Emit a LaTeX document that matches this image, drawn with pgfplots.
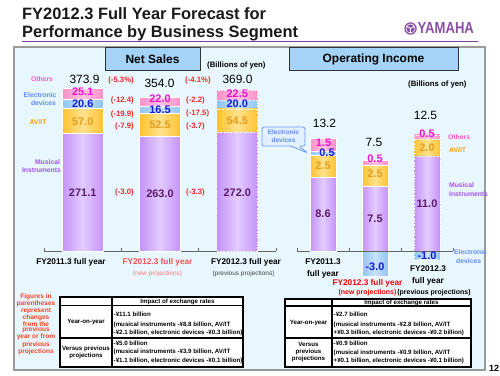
\documentclass[border=0pt]{standalone}
\usepackage{fontspec}
\setmainfont{Liberation Sans}
\usepackage{pgfplots}
\pgfplotsset{compat=1.18}
\newcommand{\fs}[1]{\fontsize{#1}{#1}\selectfont}
\definecolor{titleC}{HTML}{1A1A1A}
\definecolor{purpL}{HTML}{7E3F9E}
\definecolor{yamC}{HTML}{8A4FA6}
\definecolor{panelC}{HTML}{E8F6FE}
\definecolor{panelB}{HTML}{9A9A9A}
\definecolor{hdrC}{HTML}{A3D3F6}
\definecolor{miE}{HTML}{C592F7}
\definecolor{miC}{HTML}{E2CCFF}
\definecolor{avE}{HTML}{FFC22E}
\definecolor{avC}{HTML}{FFE28E}
\definecolor{elE}{HTML}{8EC5F8}
\definecolor{elC}{HTML}{C6E3FF}
\definecolor{otE}{HTML}{FF8FC8}
\definecolor{otC}{HTML}{FFC4E2}
\definecolor{miT}{HTML}{5C1A6B}
\definecolor{avT}{HTML}{E39C1C}
\definecolor{elT}{HTML}{1A1ADC}
\definecolor{otT}{HTML}{F010D0}
\definecolor{miL}{HTML}{A652E8}
\definecolor{avL}{HTML}{FF9E00}
\definecolor{elL}{HTML}{5C8CF5}
\definecolor{otL}{HTML}{FF55C8}
\definecolor{chgC}{HTML}{F02828}
\definecolor{catR}{HTML}{FF5050}
\definecolor{catP}{HTML}{FF7A7A}
\definecolor{noteC}{HTML}{FF4020}
\definecolor{callF}{HTML}{E2F0FF}
\definecolor{callB}{HTML}{6C9CF2}
\definecolor{axC}{HTML}{666666}
\pgfplotsset{
  mi/.style={draw=white, line width=0.8bp, left color=miE, right color=miE, middle color=miC},
  av/.style={draw=white, line width=0.8bp, left color=avE, right color=avE, middle color=avC},
  el/.style={draw=white, line width=0.8bp, left color=elE, right color=elE, middle color=elC},
  ot/.style={draw=white, line width=0.8bp, left color=otE, right color=otE, middle color=otC},
  dsh/.style={dash pattern=on 2bp off 1.3bp},
  lgeo/.style={at={(44bp,124bp)}, anchor=south west, scale only axis,
    width=232bp, height=165.3bp, xmin=-0.5, xmax=2.5, ymin=0, ymax=380,
    ybar stacked, bar width=41bp, clip=false},
  rgeo/.style={at={(297bp,93.9bp)}, anchor=south west, scale only axis,
    width=156bp, height=159.1bp, xmin=-0.5, xmax=2.5, ymin=-3.5, ymax=15,
    bar width=26bp, clip=false},
  axvis/.style={axis y line=none,
    xtick={-0.5,0.5,1.5,2.5}, xticklabels={}, ytick=\empty,
    xtick align=inside, major tick length=3bp,
    axis line style={draw=axC, line width=1bp},
    x tick style={draw=axC, line width=0.8bp}},
}
\tikzset{
  vl/.style={inner sep=0pt, font=\fs{11}\bfseries},
  tot/.style={inner sep=0pt, font=\fs{12}},
  chg/.style={inner sep=0pt, font=\fs{7.8}\bfseries, text=chgC},
  leg/.style={inner sep=0pt, font=\fs{6.8}\bfseries},
  cat/.style={inner sep=0pt, font=\fs{8.3}\bfseries},
  tb/.style={inner sep=0pt, font=\fs{6.2}\bfseries},
}
\begin{document}
\begin{tikzpicture}[x=1bp,y=1bp]
\useasboundingbox (0,0) rectangle (500,375);
\fill[white] (0,0) rectangle (500,375);
\begin{scope}[shift={(0bp,375bp)}, y=-1bp]
  % title
  \node[anchor=west, inner sep=0pt, font=\fs{16.5}\bfseries, text=titleC] at (22,14) {FY2012.3 Full Year Forecast for};
  \node[anchor=west, inner sep=0pt, font=\fs{16.5}\bfseries, text=titleC] at (22,33) {Performance by Business Segment};
  \draw[purpL, line width=1.5bp] (22,41.5) -- (478,41.5);
  % logo
  \fill[yamC] (410.5,28.5) circle (6.2);
  \foreach \a in {90,210,330} {\draw[white, line width=0.9bp] (410.5,28.5) -- ++(\a:4.5);}
  \draw[white, line width=0.6bp] (410.5,28.5) circle (4.6);
  \node[anchor=west, inner sep=0pt, font=\fs{16}\bfseries, text=yamC] at (417.5,28.5) {\scalebox{0.82}[1]{YAMAHA}};
  % panel
  \filldraw[fill=panelC, draw=panelB, line width=1.5bp] (14,47) rectangle (485,370);
  \filldraw[fill=hdrC, draw=black!80, line width=0.8bp] (105,47) rectangle (200,70);
  \node[inner sep=0pt, font=\fs{12}\bfseries] at (152.5,59) {Net Sales};
  \filldraw[fill=hdrC, draw=black!80, line width=0.8bp] (289,47) rectangle (458,70);
  \node[inner sep=0pt, font=\fs{12}\bfseries] at (373.5,59) {Operating Income};
  \node[anchor=west, inner sep=0pt, font=\fs{7.8}\bfseries] at (207,65) {(Billions of yen)};
  \node[anchor=west, inner sep=0pt, font=\fs{7.8}\bfseries] at (408,84) {(Billions of yen)};
\end{scope}

% ---------- Net sales: FY2011.3 actual ----------
\begin{axis}[lgeo, axvis, axis x line*=bottom]
\addplot[mi] coordinates {(0,271.1)};
\addplot[av] coordinates {(0,57.0)};
\addplot[el] coordinates {(0,20.6)};
\addplot[ot] coordinates {(0,25.1)};
\end{axis}
% ---------- Net sales: new projections ----------
\begin{axis}[lgeo, hide axis]
\addplot[mi] coordinates {(1,263.0)};
\addplot[av] coordinates {(1,52.5)};
\addplot[el] coordinates {(1,16.5)};
\addplot[ot] coordinates {(1,22.0)};
\end{axis}
% ---------- Net sales: previous projections (dashed) ----------
\begin{axis}[lgeo, hide axis]
\addplot[mi, dsh] coordinates {(2,272.0)};
\addplot[av, dsh] coordinates {(2,54.5)};
\addplot[el, dsh] coordinates {(2,20.0)};
\addplot[ot, dsh] coordinates {(2,22.5)};
\end{axis}

% ---------- Operating income: negative electronic devices ----------
\begin{axis}[rgeo, ybar, bar shift=0pt, hide axis]
\addplot[el] coordinates {(1,-3.0)};
\addplot[el, dsh] coordinates {(2,-1.0)};
\end{axis}
% ---------- Operating income: previous projections (dashed) ----------
\begin{axis}[rgeo, ybar stacked, hide axis]
\addplot[mi, dsh] coordinates {(2,11.0)};
\addplot[av, dsh] coordinates {(2,2.0)};
\addplot[ot, dsh] coordinates {(2,0.5)};
\end{axis}
% ---------- Operating income: new projections ----------
\begin{axis}[rgeo, ybar stacked, hide axis]
\addplot[mi] coordinates {(1,7.5)};
\addplot[av] coordinates {(1,2.5)};
\addplot[ot] coordinates {(1,0.5)};
\end{axis}
% ---------- Operating income: FY2011.3 actual ----------
\begin{axis}[rgeo, ybar stacked, axvis, axis x line*=middle]
\addplot[mi] coordinates {(0,8.6)};
\addplot[av] coordinates {(0,2.5)};
\addplot[el] coordinates {(0,0.5)};
\addplot[ot] coordinates {(0,1.5)};
\end{axis}

\begin{scope}[shift={(0bp,375bp)}, y=-1bp]
  % left segment values
  \node[vl, text=miT] at (82.7,193) {271.1};
  \node[vl, text=avT] at (82.7,121.5) {57.0};
  \node[vl, text=elT] at (82.7,103.5) {20.6};
  \node[vl, text=otT] at (82.7,92) {25.1};
  \node[vl, text=miT] at (160,194) {263.0};
  \node[vl, text=avT] at (160,124.5) {52.5};
  \node[vl, text=elT] at (160,109.5) {16.5};
  \node[vl, text=otT] at (160,98.5) {22.0};
  \node[vl, text=miT] at (237.3,193) {272.0};
  \node[vl, text=avT] at (237.3,121) {54.5};
  \node[vl, text=elT] at (237.3,103.5) {20.0};
  \node[vl, text=otT] at (237.3,93.5) {22.5};
  % right segment values
  \node[vl, text=otT] at (323.5,143) {1.5};
  \node[vl, text=elT] at (327,153) {0.5};
  \node[vl, text=avT] at (323,166) {2.5};
  \node[vl, text=miT] at (323,214) {8.6};
  \node[vl, text=otT] at (375,158.5) {0.5};
  \node[vl, text=avT] at (375,174) {2.5};
  \node[vl, text=miT] at (375,219) {7.5};
  \node[vl, text=elT] at (375,267) {-3.0};
  \node[vl, text=otT] at (427,134) {0.5};
  \node[vl, text=avT] at (427,148) {2.0};
  \node[vl, text=miT] at (427,204) {11.0};
  \node[vl, text=elT] at (427,256) {-1.0};
  \node[tot] at (324.5,123) {13.2};
  \node[tot] at (374,142) {7.5};
  \node[tot] at (425.5,115) {12.5};
  % left totals and changes
  \node[tot] at (84.5,79) {373.9};
  \node[tot] at (159.5,83.5) {354.0};
  \node[tot] at (237.5,79) {369.0};
  \node[chg, anchor=east] at (134,80.5) {(-5.3\%)};
  \node[chg, anchor=east] at (134,100) {(-12.4)};
  \node[chg, anchor=east] at (134,114) {(-19.9)};
  \node[chg, anchor=east] at (134,126) {(-7.9)};
  \node[chg, anchor=east] at (134,192) {(-3.0)};
  \node[chg, anchor=west] at (185,80.5) {(-4.1\%)};
  \node[chg, anchor=west] at (186,100) {(-2.2)};
  \node[chg, anchor=west] at (186,113.5) {(-17.5)};
  \node[chg, anchor=west] at (186,126) {(-3.7)};
  \node[chg, anchor=west] at (186,192) {(-3.3)};
  % left legend
  \node[leg, text=otL] at (42,79) {Others};
  \node[leg, text=elL] at (40,95) {Electronic};
  \node[leg, text=elL] at (43.5,103) {devices};
  \node[leg, text=avL] at (38,122) {AV/IT};
  \node[leg, text=miL] at (47.5,162) {Musical};
  \node[leg, text=miL] at (41.5,170) {Instruments};
  % left categories
  \node[cat] at (71,262) {FY2011.3 full year};
  \node[cat, text=catR] at (157.5,262) {FY2012.3 full year};
  \node[inner sep=0pt, font=\fs{6.5}, text=catP] at (157.5,273.5) {(new projections)};
  \node[cat] at (246,262) {FY2012.3 full year};
  \node[inner sep=0pt, font=\fs{6.5}, text=black!75] at (243.5,273.5) {(previous projections)};
  % right legend
  \node[leg, text=otL, anchor=west] at (448,137) {Others};
  \node[leg, text=avL, anchor=west] at (449,150) {AV/IT};
  \node[leg, text=miL, anchor=west] at (449,185) {Musical};
  \node[leg, text=miL, anchor=west] at (449,194) {Instruments};
  \node[leg, text=elL, anchor=west] at (454,252) {Electronic};
  \node[leg, text=elL, anchor=west] at (456,261) {devices};
  % callout
  \filldraw[fill=callF, draw=callB, line width=0.8bp, rounded corners=1.5bp]
     (262,127) -- (305,127) -- (305,146) -- (299,146) -- (307.5,153) -- (291,146) -- (262,146) -- cycle;
  \node[leg, text=elL, font=\fs{6.5}\bfseries] at (283.5,132.5) {Electronic};
  \node[leg, text=elL, font=\fs{6.5}\bfseries] at (283.5,140.5) {devices};
  % right categories
  \node[cat] at (323,262) {FY2011.3};
  \node[cat] at (323,274) {full year};
  \node[cat] at (428,269) {FY2012.3};
  \node[cat] at (428,281) {full year};
  \node[cat, text=red] at (367.5,283) {FY2012.3 full year};
  \node[inner sep=0pt, font=\fs{7}\bfseries, text=red] at (367.5,293) {(new projections)};
  \node[inner sep=0pt, font=\fs{7}\bfseries] at (434,293) {(previous projections)};
  % note
  \node[inner sep=0pt, align=center, font=\fontsize{6.6}{5.45}\selectfont\bfseries, text=noteC] at (36,324)
    {Figures in\\parentheses\\represent\\changes\\from the\\previous\\year or from\\previous\\projections};
  % left table
  \filldraw[fill=white, draw=black, line width=1.1bp] (60,297) rectangle (243,367);
  \draw[black, line width=1.1bp] (112,297) -- (112,367) (60,305.5) -- (243,305.5) (60,338) -- (243,338);
  \node[tb] at (177.5,301.5) {Impact of exchange rates};
  \node[tb] at (86,322.5) {Year-on-year};
  \node[tb] at (86,348.5) {Versus previous};
  \node[tb] at (86,356) {projections};
  \node[tb, anchor=west] at (113.5,314) {-¥11.1 billion};
  \node[tb, anchor=west] at (113.5,325) {(musical instruments -¥8.8 billion, AV/IT};
  \node[tb, anchor=west] at (113.5,333) {-¥2.1 billion, electronic devices -¥0.3 billion)};
  \node[tb, anchor=west] at (113.5,343) {-¥5.0 billion};
  \node[tb, anchor=west] at (113.5,352) {(musical instruments -¥3.9 billion, AV/IT};
  \node[tb, anchor=west] at (113.5,361) {-¥1.1 billion, electronic devices -¥0.1 billion)};
  % right table
  \filldraw[fill=white, draw=black, line width=1.1bp] (285,299) rectangle (471,367);
  \draw[black, line width=1.1bp] (332,299) -- (332,367) (285,306) -- (471,306) (285,338) -- (471,338);
  \node[tb] at (401.5,302.5) {Impact of exchange rates};
  \node[tb] at (308.5,323) {Year-on-year};
  \node[tb] at (308.5,344) {Versus};
  \node[tb] at (308.5,351.5) {previous};
  \node[tb] at (308.5,359) {projections};
  \node[tb, anchor=west] at (333.5,314) {-¥2.7 billion};
  \node[tb, anchor=west] at (333.5,325) {(musical instruments -¥2.8 billion, AV/IT};
  \node[tb, anchor=west] at (333.5,333) {+¥0.3 billion, electronic devices -¥0.2 billion)};
  \node[tb, anchor=west] at (333.5,343) {-¥0.9 billion};
  \node[tb, anchor=west] at (333.5,352.5) {(musical instruments -¥0.9 billion, AV/IT};
  \node[tb, anchor=west] at (333.5,361) {+¥0.1 billion, electronic devices -¥0.1 billion)};
  % page number
  \node[inner sep=0pt, font=\fs{9}\bfseries] at (494,368) {12};
\end{scope}
\end{tikzpicture}
\end{document}
